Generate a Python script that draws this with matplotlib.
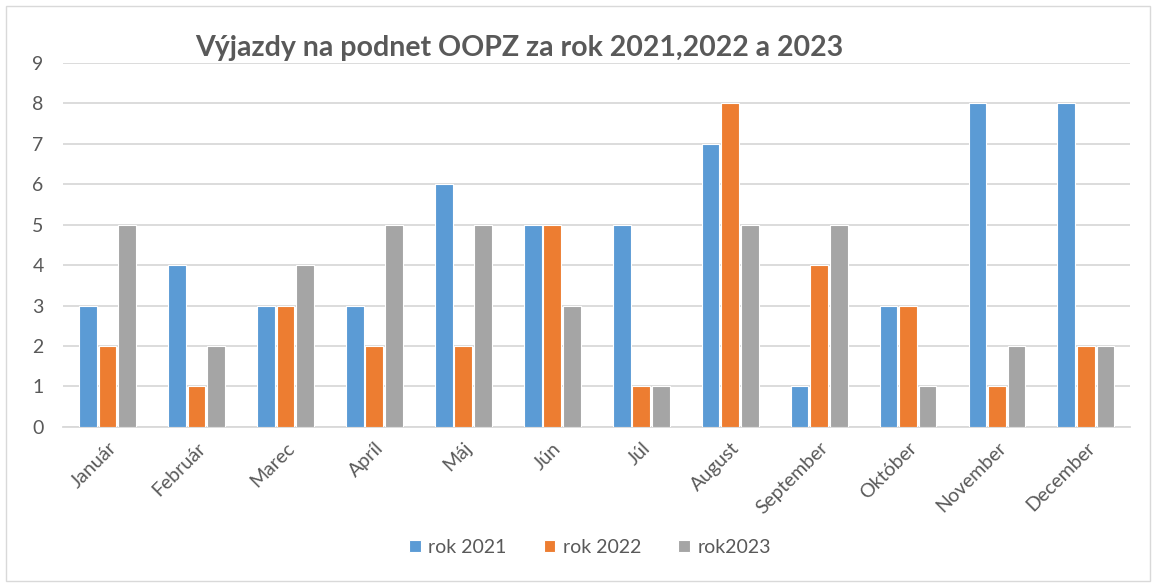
import matplotlib
matplotlib.use("Agg")
import matplotlib.pyplot as plt
import numpy as np
from matplotlib.patches import Rectangle

months = ["Január", "Február", "Marec", "Apríl", "Máj", "Jún", "Júl", "August",
          "September", "Október", "November", "December"]
rok2021 = [3, 4, 3, 3, 6, 5, 5, 7, 1, 3, 8, 8]
rok2022 = [2, 1, 3, 2, 2, 5, 1, 8, 4, 3, 1, 2]
rok2023 = [5, 2, 4, 5, 5, 3, 1, 5, 5, 1, 2, 2]
series_names = ["rok 2021", "rok 2022", "rok2023"]
colors = ["#5B9BD5", "#ED7D31", "#A5A5A5"]
title = "Výjazdy na podnet OOPZ za rok 2021,2022 a 2023"

plt.rcParams['font.family'] = ['Lato', 'DejaVu Sans']
fig = plt.figure(figsize=(11.57, 5.84), dpi=100)
ax = fig.add_axes([0.0545, 0.269, 0.9225, 0.623])

x = np.arange(len(months))
w = 0.20
for i, (vals, name, c) in enumerate(zip([rok2021, rok2022, rok2023], series_names, colors)):
    ax.bar(x + (i - 1) * 0.22, vals, width=w, color=c, edgecolor="white",
           linewidth=0.8, label=name, zorder=3)

ax.set_xlim(-0.5, len(months) - 0.5)
ax.set_ylim(0, 9)
ax.set_yticks(range(0, 10))
ax.yaxis.grid(True, color="#D9D9D9", linewidth=1.3, zorder=0)
for s in ["top", "right", "left"]:
    ax.spines[s].set_visible(False)
ax.spines["bottom"].set_color("#D9D9D9")
ax.spines["bottom"].set_linewidth(1.3)
ax.tick_params(axis="both", length=0, colors="#595959", labelsize=14)
ax.tick_params(axis="y", pad=14)
ax.set_xticks(x)
ax.set_xticklabels(months, rotation=45, ha="right", rotation_mode="anchor")
ax.tick_params(axis="x", pad=9)

fig.text(0.449, 0.918, title, ha="center", va="center", fontsize=20.5,
         fontweight="bold", color="#595959")

handles, labels = ax.get_legend_handles_labels()
fig.legend(handles, labels, loc="center", bbox_to_anchor=(0.51, 0.063), ncol=3,
           frameon=False, fontsize=14, labelcolor="#595959", handlelength=0.6,
           handleheight=0.6, handletextpad=0.4, columnspacing=1.9)

fig.patches.append(Rectangle((0.005, 0.005), 0.989, 0.985, transform=fig.transFigure,
                             fill=False, edgecolor="#D9D9D9", linewidth=1))

fig.savefig("out.png", dpi=100)
